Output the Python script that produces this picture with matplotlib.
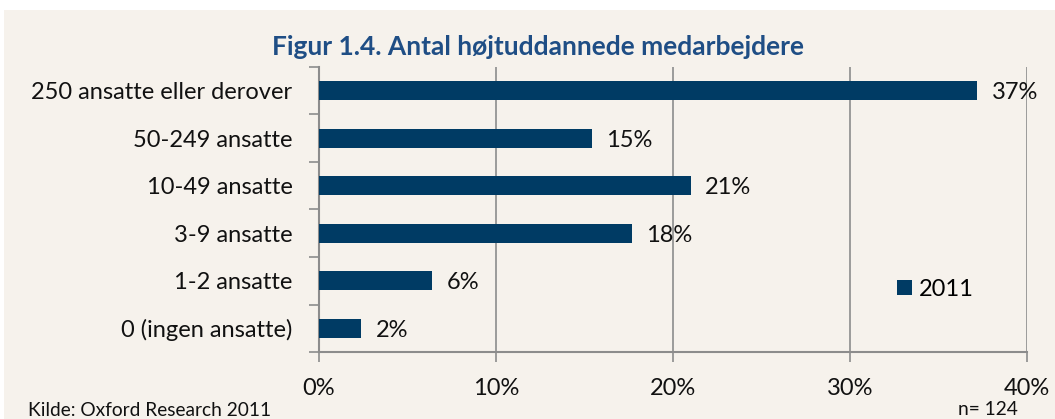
import matplotlib.pyplot as plt
from matplotlib.patches import Rectangle
from matplotlib.ticker import FuncFormatter

# data
categories = ['250 ansatte eller derover', '50-249 ansatte', '10-49 ansatte',
              '3-9 ansatte', '1-2 ansatte', '0 (ingen ansatte)']
values = [37.2, 15.4, 21.0, 17.7, 6.4, 2.4]
value_labels = ['37%', '15%', '21%', '18%', '6%', '2%']
series_name = '2011'
x_ticks = [0, 10, 20, 30, 40]

bg = '#F6F2EC'
bar_color = '#003B64'
grid_color = '#8C8C8C'
plt.rcParams['font.family'] = ['Lato', 'DejaVu Sans']

fig = plt.figure(figsize=(10.55, 4.19), dpi=100)
fig.patch.set_facecolor('white')
fig.patches.append(Rectangle((4 / 1055, 0), 1, 1 - 10 / 419, transform=fig.transFigure,
                             facecolor=bg, edgecolor='none', zorder=-10))

ax = fig.add_axes([319 / 1055, 1 - 352 / 419, 708 / 1055, 285 / 419])
ax.set_facecolor(bg)

y = list(range(len(categories)))
bars = ax.barh(y, values, height=0.39, color=bar_color, zorder=3, label=series_name)
for yi, v, lab in zip(y, values, value_labels):
    ax.text(v + 0.8, yi + 0.04, lab, va='center', ha='left', fontsize=17, color='#111111', zorder=4)

ax.set_ylim(len(categories) - 0.5, -0.5)
ax.set_xlim(0, 40)
ax.set_yticks(y)
ax.set_yticklabels(categories, fontsize=17, color='#111111')
ax.set_yticks([i - 0.5 for i in range(len(categories) + 1)], minor=True)
ax.tick_params(axis='y', which='major', length=0, pad=19)
ax.tick_params(axis='y', which='minor', length=7, color=grid_color, width=1.2)
ax.set_xticks(x_ticks)
ax.xaxis.set_major_formatter(FuncFormatter(lambda v, p: f'{v:.0f}%'))
ax.tick_params(axis='x', length=7, color=grid_color, width=1.2, labelsize=17,
               labelcolor='#111111', pad=12)
ax.grid(axis='x', color=grid_color, linewidth=1.2, zorder=0)
for s in ['top', 'right']:
    ax.spines[s].set_visible(False)
for s in ['left', 'bottom']:
    ax.spines[s].set_color(grid_color)
    ax.spines[s].set_linewidth(1.5)

leg = ax.legend(loc='upper left', bbox_to_anchor=(0.787, 0.33), frameon=False,
                fontsize=17, handlelength=0.6, handleheight=0.6, handletextpad=0.3)

fig.text(538 / 1055, 1 - 47 / 419, 'Figur 1.4. Antal højtuddannede medarbejdere',
         ha='center', va='center', fontsize=19, fontweight='bold', color='#1F4E85')
fig.text(28 / 1055, 1 - 410 / 419, 'Kilde: Oxford Research 2011', ha='left', va='center',
         fontsize=13.8, color='#111111')
fig.text(1018 / 1055, 1 - 409 / 419, 'n= 124', ha='right', va='center',
         fontsize=13.8, color='#111111')

fig.savefig('out.png', dpi=100, facecolor=fig.get_facecolor())
